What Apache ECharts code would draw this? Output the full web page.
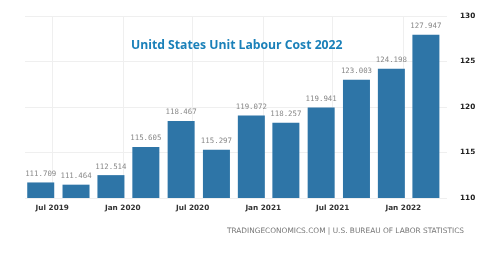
<!DOCTYPE html>
<html>
<head>
<meta charset="utf-8">
<script src="https://cdn.jsdelivr.net/npm/echarts@6/dist/echarts.min.js"></script>
<style>
html, body { margin: 0; padding: 0; background: #fff; }
#main { width: 494px; height: 262px; }
</style>
</head>
<body>
<div id="main"></div>
<script>
// quarterly figures, bars sit on the last month of each quarter
var quarterDates = ['2019-06-01', '2019-09-01', '2019-12-01', '2020-03-01', '2020-06-01', '2020-09-01',
    '2020-12-01', '2021-03-01', '2021-06-01', '2021-09-01', '2021-12-01', '2022-03-01'];
var costValues = [111.709, 111.464, 112.514, 115.605, 118.467, 115.297,
    119.072, 118.257, 119.941, 123.003, 124.198, 127.947];
var tickDates = ['2019-07-01', '2020-01-01', '2020-07-01', '2021-01-01', '2021-07-01', '2022-01-01'];
var monthNames = ['Jan', 'Feb', 'Mar', 'Apr', 'May', 'Jun', 'Jul', 'Aug', 'Sep', 'Oct', 'Nov', 'Dec'];

function toTime(s) {
    var p = s.split('-');
    return new Date(+p[0], +p[1] - 1, +p[2]).getTime();
}

var seriesData = [];
for (var i = 0; i < quarterDates.length; i++) {
    seriesData.push([toTime(quarterDates[i]), costValues[i]]);
}
var tickValues = tickDates.map(toTime);

var myChart = echarts.init(document.getElementById('main'));
myChart.setOption({
    animation: false,
    title: [{
        text: 'Unitd States Unit Labour Cost 2022',
        left: 126,
        top: 35,
        textStyle: {
            color: '#1a80b9',
            fontFamily: 'Open Sans',
            fontWeight: 'bold',
            fontSize: 12.2
        }
    }, {
        text: 'TRADINGECONOMICS.COM | U.S. BUREAU OF LABOR STATISTICS',
        right: 25,
        top: 223,
        textStyle: {
            color: '#777',
            fontFamily: 'DejaVu Sans',
            fontWeight: 'normal',
            fontSize: 7.4
        }
    }],
    grid: {
        left: 25,
        right: 47,
        top: 16,
        bottom: 64
    },
    xAxis: {
        type: 'value',
        scale: true,
        min: toTime('2019-04-21'),
        max: toTime('2022-04-25'),
        axisLine: { show: false },
        axisTick: { show: false, customValues: tickValues },
        splitLine: { show: true, lineStyle: { color: '#efefef', width: 1 } },
        axisLabel: {
            customValues: tickValues,
            margin: 7,
            color: '#333',
            fontFamily: 'DejaVu Sans',
            fontWeight: 'bold',
            fontSize: 7.3,
            formatter: function (value) {
                var d = new Date(value);
                return monthNames[d.getMonth()] + ' ' + d.getFullYear();
            }
        }
    },
    yAxis: {
        type: 'value',
        position: 'right',
        min: 110,
        max: 130,
        interval: 5,
        axisLine: { show: false },
        axisTick: { show: false },
        splitLine: { lineStyle: { color: '#efefef', width: 1 } },
        axisLabel: {
            margin: 13,
            color: '#222',
            fontFamily: 'DejaVu Sans',
            fontWeight: 'bold',
            fontSize: 7.3
        }
    },
    series: [{
        type: 'bar',
        barWidth: 27,
        data: seriesData,
        itemStyle: { color: '#2e75a7' },
        label: {
            show: true,
            position: 'top',
            distance: 5,
            color: '#888',
            fontFamily: 'DejaVu Sans Mono',
            fontSize: 7.4,
            formatter: function (p) { return p.value[1].toFixed(3); }
        }
    }]
});
</script>
</body>
</html>
